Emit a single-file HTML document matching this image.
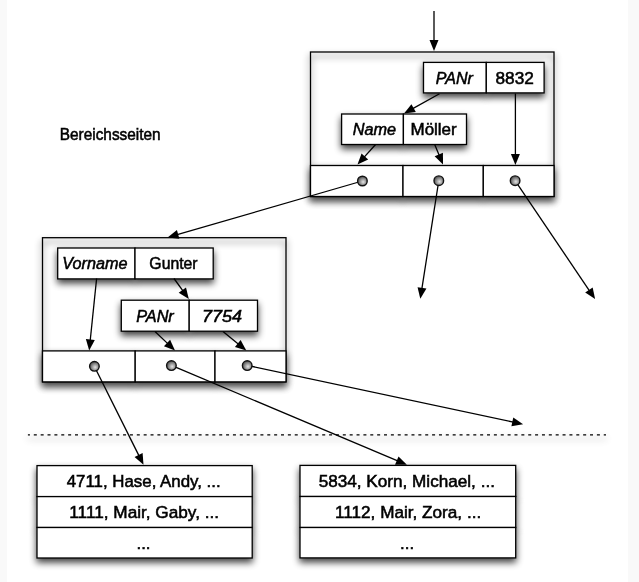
<!DOCTYPE html>
<html><head><meta charset="utf-8">
<style>
html,body{margin:0;padding:0;background:#fff;}
body{width:639px;height:582px;overflow:hidden;position:relative;}
svg{position:absolute;left:0;top:0;}
text{font-family:"Liberation Sans",sans-serif;font-size:17px;fill:#000;stroke:#000;stroke-width:0.55px;}
.it{font-style:italic;}
</style></head><body>
<svg width="639" height="582" viewBox="0 0 639 582">
<defs>
  <filter id="sh" filterUnits="userSpaceOnUse" x="0" y="0" width="639" height="582">
    <feGaussianBlur in="SourceAlpha" stdDeviation="3.8"/><feOffset dy="4.3"/>
    <feComponentTransfer><feFuncA type="linear" slope="0.75"/></feComponentTransfer>
  </filter>
  <filter id="sho" filterUnits="userSpaceOnUse" x="0" y="0" width="639" height="582">
    <feGaussianBlur in="SourceAlpha" stdDeviation="3.8"/><feOffset dy="4.3"/>
    <feComponentTransfer><feFuncA type="linear" slope="0.7"/></feComponentTransfer>
  </filter>
  <filter id="gs" filterUnits="userSpaceOnUse" x="0" y="0" width="639" height="582"><feColorMatrix type="identity"/></filter>
  <radialGradient id="ball" cx="0.58" cy="0.6" r="0.62">
    <stop offset="0" stop-color="#e4e4e4"/>
    <stop offset="1" stop-color="#484848"/>
  </radialGradient>
</defs>
<rect x="0" y="0" width="7" height="582" fill="#f9f9f9"/>
<rect x="628" y="0" width="11" height="582" fill="#f9f9f9"/>

<g fill="#000">
<rect x="310.5" y="165.5" width="92.5" height="31" fill="#fff" stroke="#000" stroke-width="1.3" filter="url(#sh)"/>
<rect x="403" y="165.5" width="80.3" height="31" fill="#fff" stroke="#000" stroke-width="1.3" filter="url(#sh)"/>
<rect x="483.3" y="165.5" width="70.7" height="31" fill="#fff" stroke="#000" stroke-width="1.3" filter="url(#sh)"/>
<rect x="423.5" y="62.4" width="62.8" height="30.5" fill="#fff" stroke="#000" stroke-width="1.3" filter="url(#sh)"/>
<rect x="486.3" y="62.4" width="57.8" height="30.5" fill="#fff" stroke="#000" stroke-width="1.3" filter="url(#sh)"/>
<rect x="341.6" y="114" width="61.8" height="30.5" fill="#fff" stroke="#000" stroke-width="1.3" filter="url(#sh)"/>
<rect x="403.4" y="114" width="63.1" height="30.5" fill="#fff" stroke="#000" stroke-width="1.3" filter="url(#sh)"/>
<rect x="42.5" y="350.9" width="92.7" height="31" fill="#fff" stroke="#000" stroke-width="1.3" filter="url(#sh)"/>
<rect x="135.2" y="350.9" width="79.8" height="31" fill="#fff" stroke="#000" stroke-width="1.3" filter="url(#sh)"/>
<rect x="215" y="350.9" width="71" height="31" fill="#fff" stroke="#000" stroke-width="1.3" filter="url(#sh)"/>
<rect x="57.7" y="248" width="77.3" height="30.9" fill="#fff" stroke="#000" stroke-width="1.3" filter="url(#sh)"/>
<rect x="135" y="248" width="78.2" height="30.9" fill="#fff" stroke="#000" stroke-width="1.3" filter="url(#sh)"/>
<rect x="121.3" y="300.2" width="67.9" height="31" fill="#fff" stroke="#000" stroke-width="1.3" filter="url(#sh)"/>
<rect x="189.2" y="300.2" width="68.3" height="31" fill="#fff" stroke="#000" stroke-width="1.3" filter="url(#sh)"/>
<rect x="37" y="465.6" width="215.2" height="31" fill="#fff" stroke="#000" stroke-width="1.3" filter="url(#sh)"/>
<rect x="37" y="496.6" width="215.2" height="30.9" fill="#fff" stroke="#000" stroke-width="1.3" filter="url(#sh)"/>
<rect x="37" y="527.5" width="215.2" height="30.5" fill="#fff" stroke="#000" stroke-width="1.3" filter="url(#sh)"/>
<rect x="300" y="465.4" width="215.7" height="31.1" fill="#fff" stroke="#000" stroke-width="1.3" filter="url(#sh)"/>
<rect x="300" y="496.5" width="215.7" height="31" fill="#fff" stroke="#000" stroke-width="1.3" filter="url(#sh)"/>
<rect x="300" y="527.5" width="215.7" height="30.4" fill="#fff" stroke="#000" stroke-width="1.3" filter="url(#sh)"/>
<rect x="310.5" y="52" width="243.5" height="144.5" fill="none" stroke="#000" stroke-width="1.3" filter="url(#sho)"/>
<rect x="42.5" y="237.7" width="243.5" height="144.1" fill="none" stroke="#000" stroke-width="1.3" filter="url(#sho)"/>
<line x1="27.9" y1="434.8" x2="606" y2="434.8" stroke="#000" stroke-width="1.35" stroke-dasharray="3 3.867" stroke-dashoffset="0.97" filter="url(#sho)"/>
</g>
<line x1="27.9" y1="434.8" x2="606" y2="434.8" stroke="#000" stroke-width="1.35" stroke-dasharray="3 3.867" stroke-dashoffset="0.97"/>
<rect x="310.5" y="52" width="243.5" height="144.5" fill="none" stroke="#000" stroke-width="1.3"/>
<rect x="42.5" y="237.7" width="243.5" height="144.1" fill="none" stroke="#000" stroke-width="1.3"/>
<rect x="310.5" y="165.5" width="92.5" height="31" fill="#fff" stroke="#000" stroke-width="1.3"/>
<rect x="403" y="165.5" width="80.3" height="31" fill="#fff" stroke="#000" stroke-width="1.3"/>
<rect x="483.3" y="165.5" width="70.7" height="31" fill="#fff" stroke="#000" stroke-width="1.3"/>
<rect x="423.5" y="62.4" width="62.8" height="30.5" fill="#fff" stroke="#000" stroke-width="1.3"/>
<rect x="486.3" y="62.4" width="57.8" height="30.5" fill="#fff" stroke="#000" stroke-width="1.3"/>
<rect x="341.6" y="114" width="61.8" height="30.5" fill="#fff" stroke="#000" stroke-width="1.3"/>
<rect x="403.4" y="114" width="63.1" height="30.5" fill="#fff" stroke="#000" stroke-width="1.3"/>
<rect x="42.5" y="350.9" width="92.7" height="31" fill="#fff" stroke="#000" stroke-width="1.3"/>
<rect x="135.2" y="350.9" width="79.8" height="31" fill="#fff" stroke="#000" stroke-width="1.3"/>
<rect x="215" y="350.9" width="71" height="31" fill="#fff" stroke="#000" stroke-width="1.3"/>
<rect x="57.7" y="248" width="77.3" height="30.9" fill="#fff" stroke="#000" stroke-width="1.3"/>
<rect x="135" y="248" width="78.2" height="30.9" fill="#fff" stroke="#000" stroke-width="1.3"/>
<rect x="121.3" y="300.2" width="67.9" height="31" fill="#fff" stroke="#000" stroke-width="1.3"/>
<rect x="189.2" y="300.2" width="68.3" height="31" fill="#fff" stroke="#000" stroke-width="1.3"/>
<rect x="37" y="465.6" width="215.2" height="31" fill="#fff" stroke="#000" stroke-width="1.3"/>
<rect x="37" y="496.6" width="215.2" height="30.9" fill="#fff" stroke="#000" stroke-width="1.3"/>
<rect x="37" y="527.5" width="215.2" height="30.5" fill="#fff" stroke="#000" stroke-width="1.3"/>
<rect x="300" y="465.4" width="215.7" height="31.1" fill="#fff" stroke="#000" stroke-width="1.3"/>
<rect x="300" y="496.5" width="215.7" height="31" fill="#fff" stroke="#000" stroke-width="1.3"/>
<rect x="300" y="527.5" width="215.7" height="30.4" fill="#fff" stroke="#000" stroke-width="1.3"/>
<g filter="url(#gs)">
<text class="it" x="454.3" y="83.8" text-anchor="middle" textLength="37.1" lengthAdjust="spacingAndGlyphs">PANr</text>
<text x="514.7" y="83.8" text-anchor="middle" textLength="38.4" lengthAdjust="spacingAndGlyphs">8832</text>
<text class="it" x="374.5" y="134.6" text-anchor="middle" textLength="43.3" lengthAdjust="spacingAndGlyphs">Name</text>
<text x="433.6" y="134.6" text-anchor="middle" textLength="46.2" lengthAdjust="spacingAndGlyphs">Möller</text>
<text class="it" x="94.9" y="268.8" text-anchor="middle" textLength="65.1" lengthAdjust="spacingAndGlyphs">Vorname</text>
<text x="173.5" y="268.8" text-anchor="middle" textLength="48.3" lengthAdjust="spacingAndGlyphs">Gunter</text>
<text class="it" x="155.0" y="322" text-anchor="middle" textLength="37.6" lengthAdjust="spacingAndGlyphs">PANr</text>
<text class="it" x="222.0" y="322" text-anchor="middle" textLength="40.0" lengthAdjust="spacingAndGlyphs">7754</text>
<text x="143.7" y="486.8" text-anchor="middle" textLength="153.9" lengthAdjust="spacingAndGlyphs">4711, Hase, Andy, ...</text>
<text x="144.2" y="517.7" text-anchor="middle" textLength="149.8" lengthAdjust="spacingAndGlyphs">1111, Mair, Gaby, ...</text>
<text x="143.5" y="549" text-anchor="middle" textLength="14" lengthAdjust="spacingAndGlyphs">...</text>
<text x="406.8" y="486.8" text-anchor="middle" textLength="176.3" lengthAdjust="spacingAndGlyphs">5834, Korn, Michael, ...</text>
<text x="408.1" y="517.7" text-anchor="middle" textLength="146.2" lengthAdjust="spacingAndGlyphs">1112, Mair, Zora, ...</text>
<text x="407.05" y="549" text-anchor="middle" textLength="14" lengthAdjust="spacingAndGlyphs">...</text>
<text x="110.2" y="140" text-anchor="middle" textLength="101.0" lengthAdjust="spacingAndGlyphs">Bereichsseiten</text>
</g>
<g stroke="#000" stroke-width="1.3" fill="none">
<line x1="434" y1="11" x2="434.00" y2="41.00"/><path d="M434.00,51.00 L429.50,40.00 L438.50,40.00 Z" fill="#000" stroke="none"/>
<line x1="439.5" y1="93.8" x2="412.74" y2="108.65"/><path d="M404.00,113.50 L411.43,104.23 L415.80,112.10 Z" fill="#000" stroke="none"/>
<line x1="515.4" y1="93.5" x2="515.40" y2="155.00"/><path d="M515.40,165.00 L510.90,154.00 L519.90,154.00 Z" fill="#000" stroke="none"/>
<line x1="375.6" y1="144.5" x2="364.19" y2="157.17"/><path d="M357.50,164.60 L361.52,153.41 L368.20,159.44 Z" fill="#000" stroke="none"/>
<line x1="434.7" y1="144.5" x2="439.18" y2="155.36"/><path d="M443.00,164.60 L434.64,156.15 L442.96,152.72 Z" fill="#000" stroke="none"/>
<line x1="362.3" y1="181" x2="177.20" y2="234.71"/><path d="M167.60,237.50 L176.91,230.11 L179.42,238.76 Z" fill="#000" stroke="none"/>
<line x1="438.8" y1="180.5" x2="421.85" y2="288.82"/><path d="M420.30,298.70 L417.56,287.14 L426.45,288.53 Z" fill="#000" stroke="none"/>
<line x1="515.1" y1="180.7" x2="589.50" y2="290.81"/><path d="M595.10,299.10 L585.21,292.50 L592.67,287.47 Z" fill="#000" stroke="none"/>
<line x1="96.6" y1="278.5" x2="90.22" y2="340.55"/><path d="M89.20,350.50 L85.85,339.10 L94.80,340.02 Z" fill="#000" stroke="none"/>
<line x1="174" y1="278.5" x2="182.95" y2="290.89"/><path d="M188.80,299.00 L178.71,292.72 L186.01,287.45 Z" fill="#000" stroke="none"/>
<line x1="155" y1="331.5" x2="167.75" y2="343.61"/><path d="M175.00,350.50 L163.93,346.19 L170.12,339.66 Z" fill="#000" stroke="none"/>
<line x1="223" y1="331.5" x2="238.55" y2="344.18"/><path d="M246.30,350.50 L234.93,347.04 L240.62,340.06 Z" fill="#000" stroke="none"/>
<line x1="94.4" y1="366.5" x2="139.03" y2="455.85"/><path d="M143.50,464.80 L134.56,456.97 L142.61,452.95 Z" fill="#000" stroke="none"/>
<line x1="171.4" y1="365.4" x2="397.69" y2="460.91"/><path d="M406.90,464.80 L395.02,464.67 L398.52,456.38 Z" fill="#000" stroke="none"/>
<line x1="247.2" y1="365.4" x2="513.32" y2="422.12"/><path d="M523.10,424.20 L511.40,426.31 L513.28,417.51 Z" fill="#000" stroke="none"/>
</g>
<g stroke="#111" stroke-width="1.4" fill="url(#ball)">
<circle cx="362.4" cy="181" r="4.8"/>
<circle cx="438.8" cy="180.7" r="4.8"/>
<circle cx="515.1" cy="180.7" r="4.8"/>
<circle cx="94.4" cy="366.3" r="4.8"/>
<circle cx="171.4" cy="365.6" r="4.8"/>
<circle cx="247.2" cy="365.6" r="4.8"/>
</g>
</svg>
</body></html>
